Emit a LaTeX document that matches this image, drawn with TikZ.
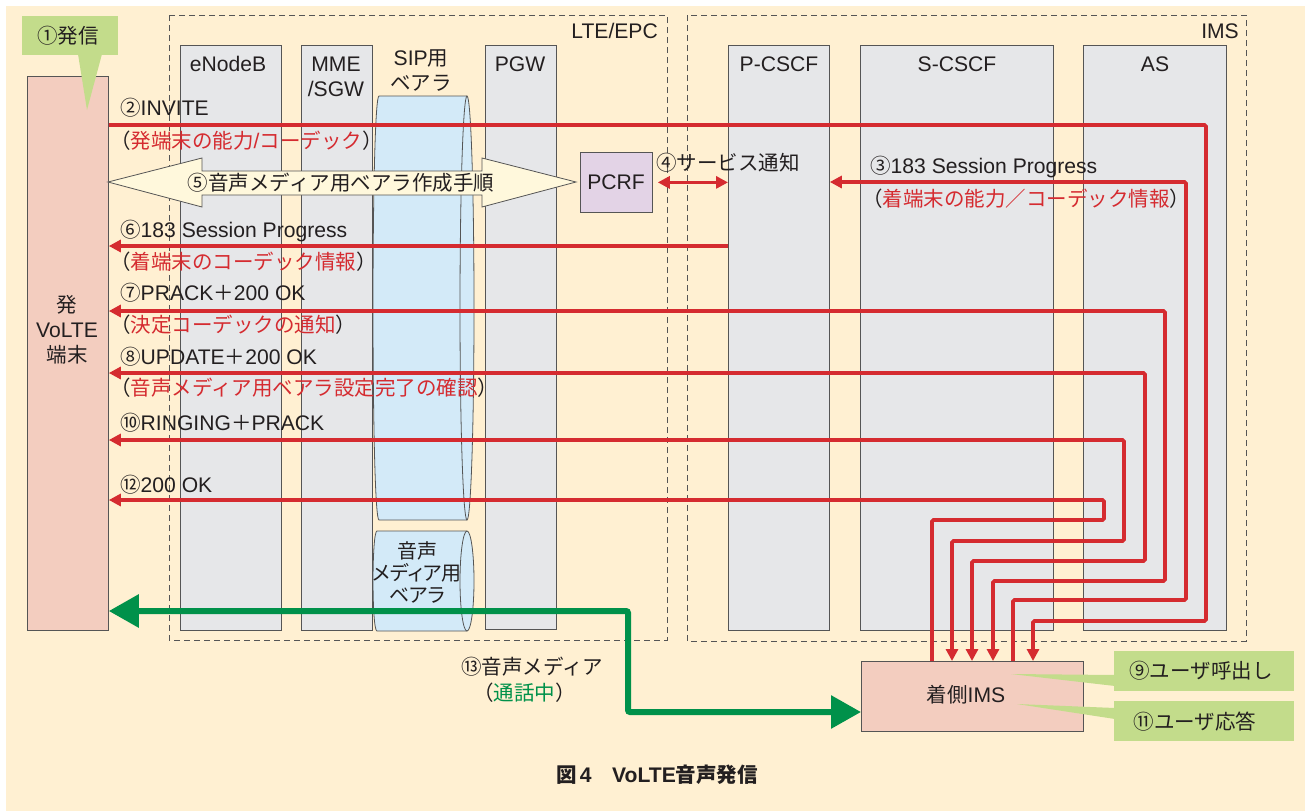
\documentclass[tikz,border=0pt]{standalone}
\usepackage{fontspec}
\setmainfont{Noto Sans CJK JP}
\newfontfamily\lt[Scale=1.03]{Liberation Sans}
\newfontfamily\jpp[RawFeature=+palt]{Noto Sans CJK JP}
\newcommand\la[1]{{\lt #1}}
\usetikzlibrary{arrows.meta}
\definecolor{bg}{HTML}{FFF0D2}
\definecolor{colgray}{HTML}{E6E7E9}
\definecolor{edge}{HTML}{555555}
\definecolor{salmon}{HTML}{F3CDBF}
\definecolor{msgred}{HTML}{D52B30}
\definecolor{mediagreen}{HTML}{00914A}
\definecolor{callgreen}{HTML}{C3DC8B}
\definecolor{lav}{HTML}{E3D3E6}
\definecolor{bearblue}{HTML}{D3EAF8}
\definecolor{arrowfill}{HTML}{FFF8DC}
\definecolor{ink}{HTML}{231F20}
\begin{document}
\begin{tikzpicture}[x=1pt,y=-1pt,
  fs/.style={font=\fontsize{20.5}{25}\selectfont, text=ink},
  txt/.style={fs, inner sep=0, text height=16pt, text depth=1pt},
  lft/.style={txt, anchor=west},
  col/.style={draw=edge, fill=colgray, line width=0.8pt, inner sep=0, anchor=north west},
  grp/.style={draw=edge, line width=0.8pt, dash pattern=on 6pt off 4pt},
  msg/.style={draw=msgred, line width=3.6pt, rounded corners=1.5pt},
  tipR/.style={-{Triangle[length=12pt,width=12pt]}},
  tipB/.style={{Triangle[length=12pt,width=12pt]}-{Triangle[length=12pt,width=12pt]}},
  media/.style={draw=mediagreen, line width=6pt, rounded corners=2pt,
    {Triangle[length=30pt,width=32pt]}-{Triangle[length=30pt,width=32pt]}},
  bearline/.style={draw=edge, line width=0.8pt}
]
\useasboundingbox (0,0) rectangle (1305,811);
\fill[white] (0,0) rectangle (1305,811);
\fill[bg] (6,6) rectangle (1305,811);

% groups
\draw[grp] (169,15) rectangle (667,640);
\draw[grp] (687,15) rectangle (1246,641);
\node[txt, anchor=east] (lte) at (658,31) {\la{LTE/EPC}};
\node[txt, anchor=east] (imsg) at (1239,31) {\la{IMS}};

% columns
\node[col, fill=salmon, minimum width=81pt, minimum height=554pt] (term) at (27,76) {};
\node[col, minimum width=101pt, minimum height=585pt] (enb) at (180,45) {};
\node[col, minimum width=71pt, minimum height=585pt] (mme) at (301,45) {};
\node[col, minimum width=71pt, minimum height=584pt] (pgw) at (485,45) {};
\node[col, minimum width=101pt, minimum height=585pt] (pcscf) at (728,45) {};
\node[col, minimum width=193pt, minimum height=585pt] (scscf) at (860,45) {};
\node[col, minimum width=143pt, minimum height=585pt] (as) at (1083,45) {};
\node[col, fill=lav, minimum width=72pt, minimum height=60pt] (pcrf) at (580,152) {};
\node[col, fill=salmon, minimum width=222pt, minimum height=70pt] (ims) at (861,661) {};

% column labels
\node[txt] (tenb) at (228,64) {\la{eNodeB}};
\node[fs, align=center, inner sep=0] (tmme) at (336,77) {\la{MME}\\\la{/SGW}};
\node[fs, align=center, inner sep=0] (tsip) at (421,71) {\la{SIP}用\\ベアラ};
\node[txt] (tpgw) at (520,64) {\la{PGW}};
\node[txt] (tpc) at (779,64) {\la{P-CSCF}};
\node[txt] (tsc) at (957,64) {\la{S-CSCF}};
\node[txt] (tas) at (1155,64) {\la{AS}};
\node[txt] (tpcrf) at (616,182) {\la{PCRF}};
\node[fs, align=center, inner sep=0] (tterm) at (67,330) {発\\\la{VoLTE}\\端末};
\node[txt] (tims) at (966,695) {着側\la{IMS}};

% SIP bearer
\fill[bearblue] (379,96) -- (467,96) -- (467,520) -- (379,520) .. controls (371,520) and (371,96) .. (379,96) -- cycle;
\fill[bearblue] (467,308) ellipse [x radius=7, y radius=212];
\draw[bearline] (467,96) -- (379,96) .. controls (371,96) and (371,520) .. (379,520) -- (467,520);
\draw[bearline] (467,308) ellipse [x radius=7, y radius=212];
% audio bearer
\fill[bearblue] (377,531) -- (467,531) -- (467,631) -- (377,631) .. controls (371.7,631) and (371.7,531) .. (377,531) -- cycle;
\fill[bearblue] (467,581) ellipse [x radius=7, y radius=50];
\draw[bearline] (467,531) -- (377,531) .. controls (371.7,531) and (371.7,631) .. (377,631) -- (467,631);
\draw[bearline] (467,581) ellipse [x radius=7, y radius=50];
\node[font=\fontsize{20}{22}\selectfont\jpp, text=ink, align=center, inner sep=0] (taud) at (417,572) {音声\\メディア用\\ベアラ};

% big arrow 5
\draw[fill=arrowfill, draw=edge, line width=0.8pt] (108,182) -- (202,158) -- (202,171) -- (482,171) -- (482,158) -- (576,182) -- (482,207) -- (482,195) -- (202,195) -- (202,207) -- cycle;
\node[txt] (t5) at (341,183) {⑤音声メディア用ベアラ作成手順};

% messages
\draw[msg, tipR] (term.east |- 0,125) -- (1206,125) -- (1206,621) -- (1033,621) -- (1033,0 |- ims.north);
\draw[msg, tipR] (1013,0 |- ims.north) -- (1013,600) -- (1186,600) -- (1186,182) -- (pcscf.east |- 0,182);
\draw[msg, tipB, shorten <=5pt] (pcrf.east) -- (pcscf.west |- pcrf.east);
\draw[msg, tipR] (pcscf.west |- 0,246) -- (term.east |- 0,246);
\draw[msg, tipB] (term.east |- 0,311) -- (1165,311) -- (1165,581) -- (993,581) -- (993,0 |- ims.north);
\draw[msg, tipB] (term.east |- 0,373) -- (1145,373) -- (1145,561) -- (972,561) -- (972,0 |- ims.north);
\draw[msg, tipB] (term.east |- 0,440) -- (1124,440) -- (1124,541) -- (952,541) -- (952,0 |- ims.north);
\draw[msg, tipR] (932,0 |- ims.north) -- (932,520) -- (1104,520) -- (1104,500) -- (term.east |- 0,500);

% media
\draw[media] (term.east |- 0,611) -- (628,611) -- (628,712) -- (ims.west |- 0,712);

% message labels
\node[lft] (l2) at (120,108) {②\la{INVITE}};
\node[lft] (l2b) at (110,141) {（\textcolor{msgred}{発端末の能力\la{/}コーデック}）};
\node[lft] (l6) at (120,230) {⑥\la{183 Session Progress}};
\node[lft] (l6b) at (110,262) {（\textcolor{msgred}{着端末のコーデック情報}）};
\node[lft] (l7) at (120,293) {⑦\la{PRACK}＋\la{200 OK}};
\node[lft] (l7b) at (110,325) {（\textcolor{msgred}{決定コーデックの通知}）};
\node[lft] (l8) at (120,357) {⑧\la{UPDATE}＋\la{200 OK}};
\node[lft] (l8b) at (110,388) {（\textcolor{msgred}{音声メディア用ベアラ設定完了の確認}）};
\node[lft] (l10) at (120,423) {⑩\la{RINGING}＋\la{PRACK}};
\node[lft] (l12) at (120,485) {⑫\la{200 OK}};
\node[lft] (l4) at (656,163) {④サービス通知};
\node[lft] (l3) at (870,166) {③\la{183 Session Progress}};
\node[lft] (l3b) at (862,199) {（\textcolor{msgred}{着端末の能力／コーデック情報}）};
\node[lft] (l13) at (461,667) {⑬音声メディア};
\node[lft] (l13b) at (473,693) {（\textcolor{mediagreen}{通話中}）};

% callouts
\fill[callgreen] (22,16) rectangle (118,55);
\fill[callgreen] (78,54) -- (102,54) -- (87,110) -- cycle;
\node[txt] (c1) at (68,36) {①発信};
\fill[callgreen] (1114,651) rectangle (1294,691);
\fill[callgreen] (1115,675) -- (1011,674) -- (1115,686) -- cycle;
\node[txt] (c9) at (1201,671) {⑨ユーザ呼出し};
\fill[callgreen] (1114,701) rectangle (1294,741);
\fill[callgreen] (1115,708) -- (1017,704) -- (1115,719) -- cycle;
\node[txt] (c11) at (1195,722) {⑪ユーザ応答};

% caption
\node[font=\fontsize{20.5}{24}\selectfont\bfseries, text=ink, inner sep=0] (cap) at (657,775) {図\,\la{\bfseries 4}　\la{\bfseries VoLTE}音声発信};
\end{tikzpicture}
\end{document}
